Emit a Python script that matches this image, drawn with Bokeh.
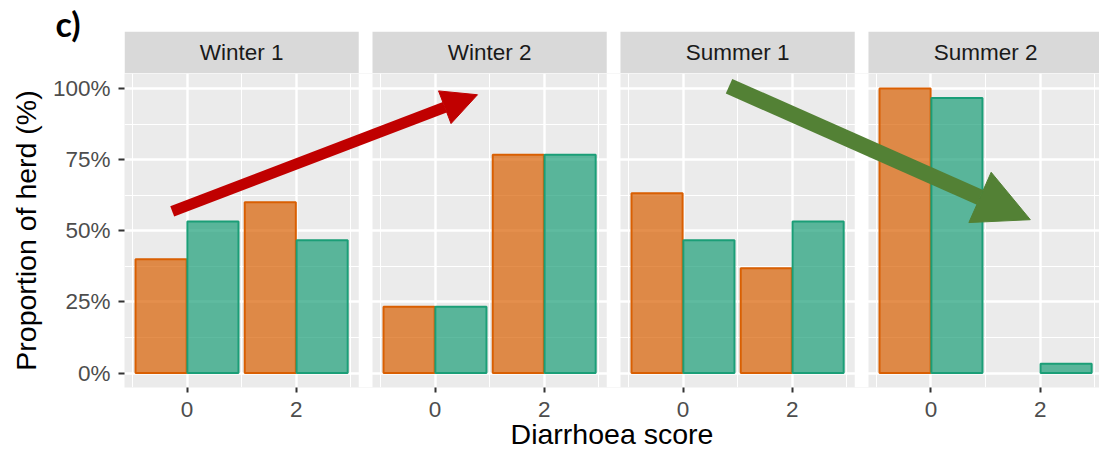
import numpy as np
from bokeh.plotting import figure
from bokeh.layouts import column
from bokeh.models import (ColumnDataSource, FixedTicker, CustomJSTickFormatter, Title,
                          Arrow, NormalHead, Range1d, NumeralTickFormatter)
from bokeh.embed import file_html
from bokeh.resources import INLINE
from bokeh.core.properties import value

# ---------------- data ----------------
seasons = ["Winter 1", "Winter 2", "Summer 1", "Summer 2"]
scores = [0, 2]
x_tick_labels = ["0", "2"]
# proportion of herd per season, per diarrhoea score
group_orange = [[0.400, 0.600], [0.233, 0.767], [0.632, 0.368], [1.000, 0.000]]
group_green = [[0.533, 0.467], [0.233, 0.767], [0.467, 0.533], [0.967, 0.033]]
y_ticks = [0.0, 0.25, 0.50, 0.75, 1.00]
y_minor = [0.125, 0.375, 0.625, 0.875]
x_minor_rel = [-1, 1, 3]

# arrows (annotations, in the panel data space): (x_start, y_start, x_end, y_end)
arrow_up = (-0.271, 0.568, 5.32, 0.978)
arrow_down = (9.927, 1.008, 15.445, 0.539)

# ---------------- layout constants ----------------
PITCH = 4.542          # distance between facet panels in x units
BAR_W = 0.95
PX_LO, PX_HI = -1.145, 3.145
Y_LO, Y_HI = -0.0506, 1.0527
XS, YS = 54.6, 284.6   # px per unit
LEFT, FRAME_W, FRAME_H, BOTTOM = 124, 975, 314, 70
STRIP_TOP_PX, STRIP_H = 31, 42
FONT = "Liberation Sans"
ORANGE, GREEN = "#D95F02", "#1B9E77"

x_range = Range1d(PX_LO, PX_LO + FRAME_W / XS)

# ---------------- strip / header figure ----------------
top = figure(width=LEFT + FRAME_W, height=STRIP_TOP_PX + STRIP_H, output_backend="svg",
             toolbar_location=None, x_axis_type=None, y_axis_type=None,
             x_range=x_range, y_range=Range1d(Y_HI, Y_HI + STRIP_H / YS),
             min_border_left=LEFT, min_border_right=0, min_border_top=STRIP_TOP_PX, min_border_bottom=0)
top.outline_line_color = None
top.background_fill_color = "white"
top.border_fill_color = "white"
top.title = Title(text="c)", align="left", vertical_align="bottom", offset=-69, standoff=-24,
                  text_font="Lato", text_font_style="bold", text_font_size="34px", text_color="black")
sl = [i * PITCH + PX_LO for i in range(len(seasons))]
sr = [i * PITCH + PX_HI for i in range(len(seasons))]
top.quad(left=sl, right=sr, bottom=Y_HI, top=Y_HI + STRIP_H / YS, fill_color="#D9D9D9", line_color=None)
top.text(x=[i * PITCH + 1.0 for i in range(len(seasons))], y=[Y_HI + STRIP_H / YS / 2] * len(seasons),
         text=seasons, text_align="center", text_baseline="middle",
         text_font=value(FONT), text_font_size="22.5px", text_color="#1A1A1A")

# ---------------- panels figure ----------------
p = figure(width=LEFT + FRAME_W, height=FRAME_H + BOTTOM, output_backend="svg", toolbar_location=None,
           x_range=x_range, y_range=Range1d(Y_LO, Y_HI),
           min_border_left=LEFT, min_border_right=0, min_border_top=0, min_border_bottom=BOTTOM)
p.background_fill_color = "#EBEBEB"
p.border_fill_color = "white"
p.outline_line_color = None

major_x = [i * PITCH + s for i in range(len(seasons)) for s in scores]
minor_x = [i * PITCH + m for i in range(len(seasons)) for m in x_minor_rel]
p.xgrid.ticker = FixedTicker(ticks=major_x, minor_ticks=minor_x)
p.ygrid.ticker = FixedTicker(ticks=y_ticks, minor_ticks=y_minor)
for g in (p.xgrid, p.ygrid):
    g.grid_line_color = "white"
    g.grid_line_width = 2.4
    g.minor_grid_line_color = "white"
    g.minor_grid_line_width = 1.1

rows = dict(x=[], top=[], color=[])
for i, s in enumerate(seasons):
    for j, sc in enumerate(scores):
        for vals, off, c in ((group_orange, -BAR_W / 2, ORANGE), (group_green, BAR_W / 2, GREEN)):
            v = vals[i][j]
            if v <= 0:
                continue
            rows["x"].append(i * PITCH + sc + off)
            rows["top"].append(v)
            rows["color"].append(c)
src = ColumnDataSource(rows)
p.vbar(x="x", top="top", bottom=0, width=BAR_W * 0.985, source=src,
       fill_color="color", fill_alpha=0.7, line_color="color", line_width=2)

gl = [i * PITCH + PX_HI for i in range(len(seasons) - 1)]
gr = [(i + 1) * PITCH + PX_LO for i in range(len(seasons) - 1)]
p.quad(left=gl, right=gr, bottom=Y_LO, top=Y_HI, fill_color="white", line_color=None)

p.xaxis.ticker = FixedTicker(ticks=major_x)
p.xaxis.formatter = CustomJSTickFormatter(args=dict(labels=x_tick_labels),
                                          code="return labels[index % labels.length];")
p.yaxis.ticker = FixedTicker(ticks=y_ticks)
p.yaxis.formatter = NumeralTickFormatter(format="0%")
for ax in (p.xaxis[0], p.yaxis[0]):
    ax.axis_line_color = None
    ax.major_tick_line_color = "#333333"
    ax.major_tick_line_width = 2
    ax.major_tick_in = 0
    ax.minor_tick_line_color = None
    ax.major_label_text_font = FONT
    ax.major_label_text_font_size = "22.5px"
    ax.major_label_text_color = "#4D4D4D"
    ax.axis_label_text_font = FONT
    ax.axis_label_text_font_size = "28.5px"
    ax.axis_label_text_font_style = "normal"
    ax.axis_label_text_color = "black"
p.xaxis.major_tick_out = 5
p.xaxis.major_label_standoff = 9
p.xaxis.axis_label = "Diarrhoea score"
p.xaxis.axis_label_standoff = -2
p.yaxis.major_tick_out = 6
p.yaxis.major_label_standoff = 8
p.yaxis.axis_label = "Proportion of herd (%)"
p.yaxis.axis_label_standoff = 8

for (x0, y0, x1, y1), col, lw, hs in ((arrow_up, "#C00000", 11, 35), (arrow_down, "#538135", 16, 55)):
    p.add_layout(Arrow(x_start=x0, y_start=y0, x_end=x1, y_end=y1, line_color=col, line_width=lw,
                       end=NormalHead(size=hs, fill_color=col, line_color=col, line_width=1)))

layout = column(top, p, spacing=0)
open("out.html", "w").write(file_html(layout, INLINE))
